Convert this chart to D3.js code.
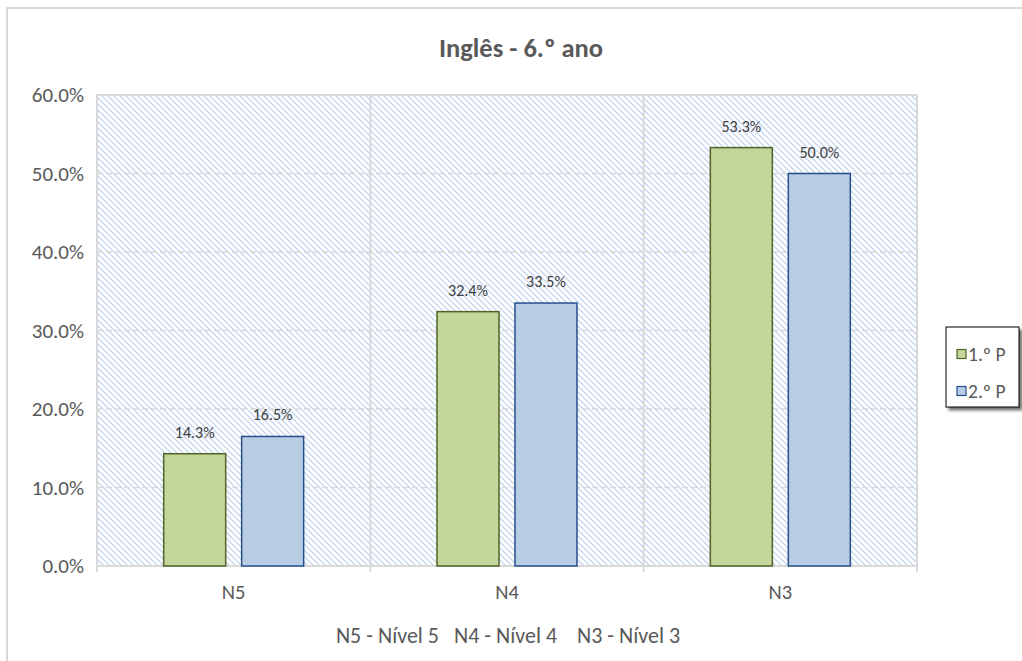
<!DOCTYPE html>
<html>
<head>
<meta charset="utf-8">
<script src="https://cdn.jsdelivr.net/npm/d3@7"></script>
<style>
  html, body { margin: 0; padding: 0; background: #fff; }
  svg { display: block; font-family: Carlito, Calibri, Lato, sans-serif; }
</style>
</head>
<body>
<div id="chart"></div>
<script>
// Inglês - 6.º ano: percentage per level, two periods

const categories = ["N5", "N4", "N3"];
const seriesNames = ["1.º P", "2.º P"];
const values1P = [14.3, 32.4, 53.3];
const values2P = [16.5, 33.5, 50.0];
const yTicks = [0, 10, 20, 30, 40, 50, 60];
const footnote = "N5 - Nível 5   N4 - Nível 4    N3 - Nível 3";

const W = 1022, H = 661;
const plot = { left: 97, top: 95, right: 917, bottom: 566 };
const FONT = "Carlito, Calibri, Lato, sans-serif";

const fills = ["#c4d79b", "#b8cce4"];
const strokes = ["#4f6228", "#254f8c"];

const data = categories.map((c, i) => ({
  category: c,
  values: [
    { series: seriesNames[0], value: values1P[i] },
    { series: seriesNames[1], value: values2P[i] }
  ]
}));

const svg = d3.select("#chart").append("svg")
  .attr("width", W)
  .attr("height", H);

// hatch pattern for the plot area
const defs = svg.append("defs");
const P = 6;
const pat = defs.append("pattern")
  .attr("id", "hatch")
  .attr("patternUnits", "userSpaceOnUse")
  .attr("width", P)
  .attr("height", P);
pat.append("rect").attr("width", P).attr("height", P).attr("fill", "#fff");
pat.selectAll("line")
  .data([[-2, -2, P + 2, P + 2], [-P, 0, P, 2 * P], [0, -P, 2 * P, P]])
  .join("line")
  .attr("x1", d => d[0]).attr("y1", d => d[1])
  .attr("x2", d => d[2]).attr("y2", d => d[3])
  .attr("stroke", "#c6d6f0")
  .attr("stroke-width", 1.3);

const shadow = defs.append("filter").attr("id", "shadow")
  .attr("x", "-20%").attr("y", "-20%").attr("width", "150%").attr("height", "150%");
shadow.append("feDropShadow")
  .attr("dx", 3).attr("dy", 3).attr("stdDeviation", 1.5)
  .attr("flood-color", "#000").attr("flood-opacity", 0.55);

// chart border
svg.append("rect")
  .attr("x", 7).attr("y", 8)
  .attr("width", W + 10).attr("height", H + 10)
  .attr("fill", "#fff")
  .attr("stroke", "#d9d9d9")
  .attr("stroke-width", 2);

const x0 = d3.scaleBand()
  .domain(categories)
  .range([plot.left, plot.right]);

const x1 = d3.scaleBand()
  .domain(seriesNames)
  .range([0, x0.bandwidth()])
  .paddingInner(0.205)
  .paddingOuter(0.855);

const y = d3.scaleLinear()
  .domain([0, 60])
  .range([plot.bottom, plot.top]);

// plot background
svg.append("rect")
  .attr("x", plot.left).attr("y", plot.top)
  .attr("width", plot.right - plot.left)
  .attr("height", plot.bottom - plot.top)
  .attr("fill", "url(#hatch)");

// horizontal gridlines (dashed)
svg.append("g")
  .selectAll("line")
  .data(yTicks.filter(t => t > 0 && t < 60))
  .join("line")
  .attr("x1", plot.left).attr("x2", plot.right)
  .attr("y1", d => y(d)).attr("y2", d => y(d))
  .attr("stroke", "#d9d9d9")
  .attr("stroke-width", 1.5)
  .attr("stroke-dasharray", "6,3");

// vertical gridlines at category boundaries, running down as ticks
const bounds = categories.map(c => x0(c)).concat([plot.right]);
svg.append("g")
  .selectAll("line")
  .data(bounds)
  .join("line")
  .attr("x1", d => d).attr("x2", d => d)
  .attr("y1", plot.top).attr("y2", plot.bottom + 6)
  .attr("stroke", "#d9d9d9")
  .attr("stroke-width", 2);

// top border and bottom axis line
svg.append("line")
  .attr("x1", plot.left - 1).attr("x2", plot.right + 1)
  .attr("y1", plot.top).attr("y2", plot.top)
  .attr("stroke", "#d9d9d9").attr("stroke-width", 2);
svg.append("line")
  .attr("x1", plot.left - 1).attr("x2", plot.right + 1)
  .attr("y1", plot.bottom).attr("y2", plot.bottom)
  .attr("stroke", "#d9d9d9").attr("stroke-width", 2);

// bars
const catG = svg.append("g")
  .selectAll("g")
  .data(data)
  .join("g")
  .attr("transform", d => `translate(${x0(d.category)},0)`);

catG.selectAll("rect")
  .data(d => d.values)
  .join("rect")
  .attr("x", v => x1(v.series))
  .attr("width", x1.bandwidth())
  .attr("y", v => y(v.value))
  .attr("height", v => y(0) - y(v.value))
  .attr("fill", (v, i) => fills[i])
  .attr("stroke", (v, i) => strokes[i])
  .attr("stroke-width", 1.5);

catG.selectAll("text")
  .data(d => d.values)
  .join("text")
  .attr("x", v => x1(v.series) + x1.bandwidth() / 2)
  .attr("y", v => y(v.value) - 16)
  .attr("text-anchor", "middle")
  .attr("font-size", 16)
  .attr("fill", "#404040")
  .text(v => v.value.toFixed(1) + "%");

// y axis labels
const yAxis = d3.axisLeft(y)
  .tickValues(yTicks)
  .tickSize(0)
  .tickPadding(13)
  .tickFormat(d => d.toFixed(1) + "%");
const yAxisG = svg.append("g")
  .attr("transform", `translate(${plot.left},0)`)
  .call(yAxis);
yAxisG.select(".domain").remove();
yAxisG.selectAll("text")
  .attr("font-family", FONT)
  .attr("font-size", 21)
  .attr("fill", "#595959");

// x axis labels
const xAxis = d3.axisBottom(x0).tickSize(0).tickPadding(18);
const xAxisG = svg.append("g")
  .attr("transform", `translate(0,${plot.bottom})`)
  .call(xAxis);
xAxisG.select(".domain").remove();
xAxisG.selectAll("text")
  .attr("font-family", FONT)
  .attr("font-size", 20.5)
  .attr("fill", "#595959");

// title
svg.append("text")
  .attr("x", 521).attr("y", 57)
  .attr("text-anchor", "middle")
  .attr("font-size", 26.5)
  .attr("font-weight", "bold")
  .attr("fill", "#595959")
  .text("Inglês - 6.º ano");

// footnote
svg.append("text")
  .attr("x", 508).attr("y", 643)
  .attr("text-anchor", "middle")
  .attr("font-size", 22)
  .attr("fill", "#595959")
  .attr("xml:space", "preserve")
  .style("white-space", "pre")
  .text(footnote);

// legend
const legend = svg.append("g").attr("transform", "translate(946,327)");
legend.append("rect")
  .attr("width", 73).attr("height", 80)
  .attr("fill", "#fff")
  .attr("stroke", "#000")
  .attr("stroke-width", 1)
  .attr("filter", "url(#shadow)");

const legItem = legend.selectAll("g.item")
  .data(seriesNames)
  .join("g")
  .attr("class", "item")
  .attr("transform", (d, i) => `translate(11,${27 + i * 37})`);
legItem.append("rect")
  .attr("x", 0).attr("y", -4.5)
  .attr("width", 9).attr("height", 9)
  .attr("fill", (d, i) => fills[i])
  .attr("stroke", (d, i) => strokes[i])
  .attr("stroke-width", 1.2);
legItem.append("text")
  .attr("x", 11).attr("y", 0)
  .attr("dy", "0.35em")
  .attr("font-size", 19.5)
  .attr("fill", "#595959")
  .text(d => d);
</script>
</body>
</html>
